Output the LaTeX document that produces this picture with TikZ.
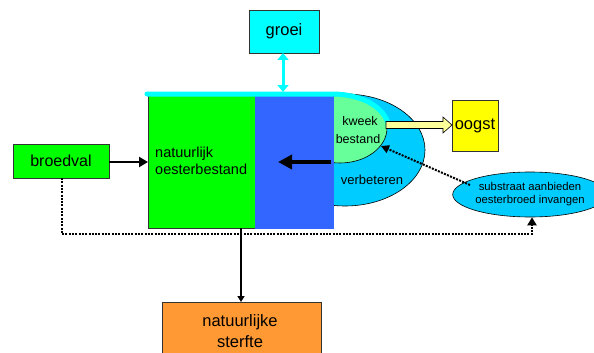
\documentclass[tikz,border=0pt]{standalone}
\usepackage{fontspec}
\setmainfont{Liberation Sans}
\usetikzlibrary{arrows.meta,shapes.geometric}
\definecolor{cyanA}{HTML}{00FFFF}
\definecolor{skyB}{HTML}{00CCFF}
\definecolor{greenA}{HTML}{00FF00}
\definecolor{mintA}{HTML}{66FF99}
\definecolor{blueA}{HTML}{3366FF}
\definecolor{yellowA}{HTML}{FFFF00}
\definecolor{paleY}{HTML}{FFFF99}
\definecolor{orangeA}{HTML}{FF9933}
\begin{document}
\begin{tikzpicture}[x=1pt,y=-1pt,
  box/.style={draw=black!80,line width=0.8pt,inner sep=0pt,outer sep=0pt},
  dotline/.style={line width=2pt,dash pattern=on 2pt off 1.3pt},
  lbl/.style={inner sep=0pt,align=left}]
\useasboundingbox (0,0) rectangle (594,353);
% ellipses
\node[ellipse,draw=black,line width=0.6pt,fill=skyB,minimum width=160pt,minimum height=112pt,inner sep=0pt] (big) at (345,150) {};
\node[ellipse,draw=black,line width=0.6pt,fill=mintA,minimum width=94pt,minimum height=70pt,inner sep=0pt] (kweek) at (340,128) {};
% green and blue boxes
\node[box,fill=greenA,minimum width=108pt,minimum height=134pt,anchor=north west] (nat) at (148,94) {};
\node[fill=blueA,inner sep=0pt,minimum width=79pt,minimum height=135pt,anchor=north west] (blue) at (255,94) {};
% cyan top line
\draw[cyanA,line width=5pt,line cap=round] (147,94) -- (334,94) .. controls (365,95) and (383,108) .. (388,123);
% texts in ellipses
\node[lbl,font=\fontsize{12.5}{14}\selectfont] (tk) at (360,121) {kweek};
\node[lbl,font=\fontsize{12.5}{14}\selectfont] (tb) at (358,139) {bestand};
\node[lbl,font=\fontsize{13}{15}\selectfont] (tv) at (372,180) {verbeteren};
\node[lbl,font=\fontsize{14.5}{17}\selectfont,anchor=west] (tn) at (155,161) {natuurlijk\\oesterbestand};
% black arrow in blue box
\coordinate (ba1) at (331,162);
\coordinate (ba2) at (278,162);
\draw[line width=4pt,-{Triangle[length=14pt,width=14pt]}] (ba1) -- (ba2);
% groei
\node[box,fill=cyanA,minimum width=70pt,minimum height=43pt,anchor=north west,font=\fontsize{16.5}{18}\selectfont] (groei) at (249,10) {groei};
\coordinate (gtop) at (283,92);
\draw[cyanA,line width=3pt,{Triangle[length=7pt,width=11pt]}-{Triangle[length=7pt,width=11pt]}] (groei.south -| gtop) -- (gtop);
% oogst
\node[box,fill=yellowA,minimum width=46pt,minimum height=51pt,anchor=north west,font=\fontsize{16.5}{18}\selectfont] (oogst) at (452,100) {oogst};
\coordinate (oa) at (386,125);
\draw[black,line width=0.6pt,fill=paleY] (386,121.5) -- (443,121.5) -- (443,117) -- (452,125) -- (443,133) -- (443,128.5) -- (386,128.5) -- cycle;
% substraat
\node[ellipse,draw=black,line width=0.6pt,fill=skyB,minimum width=123pt,minimum height=45pt,inner sep=0pt,align=center,font=\fontsize{11.3}{13}\selectfont] (sub) at (530,194.5) {substraat aanbieden\\oesterbroed invangen};
\coordinate (kb) at (381,146);
\draw[dotline,-{Triangle[length=8pt,width=8pt]}] (470,185) -- (kb);
% broedval
\node[box,fill=greenA,minimum width=96pt,minimum height=34pt,anchor=north west,font=\fontsize{16}{18}\selectfont] (broed) at (13,144) {broedval};
\draw[line width=2.2pt,-{Triangle[length=9pt,width=10pt]}] (broed.east |- 0,162) -- (nat.west |- 0,162);
% dotted feedback line
\coordinate (c1) at (62,234);
\coordinate (c2) at (532,234);
\draw[dotline,-{Triangle[length=8pt,width=9pt]}] (broed.south -| c1) -- (c1) -- (c2) -- (sub.south -| c2);
% sterfte
\node[box,fill=orangeA,minimum width=159pt,minimum height=56pt,anchor=north west] (sterf) at (162,302) {};
\node[align=center,font=\fontsize{16.5}{21}\selectfont,inner sep=0pt] (st) at (240,331) {natuurlijke\\sterfte};
\coordinate (sv) at (241,228);
\draw[line width=2.2pt,-{Triangle[length=6pt,width=7pt]}] (sv) -- (sv |- sterf.north);
\end{tikzpicture}
\end{document}
